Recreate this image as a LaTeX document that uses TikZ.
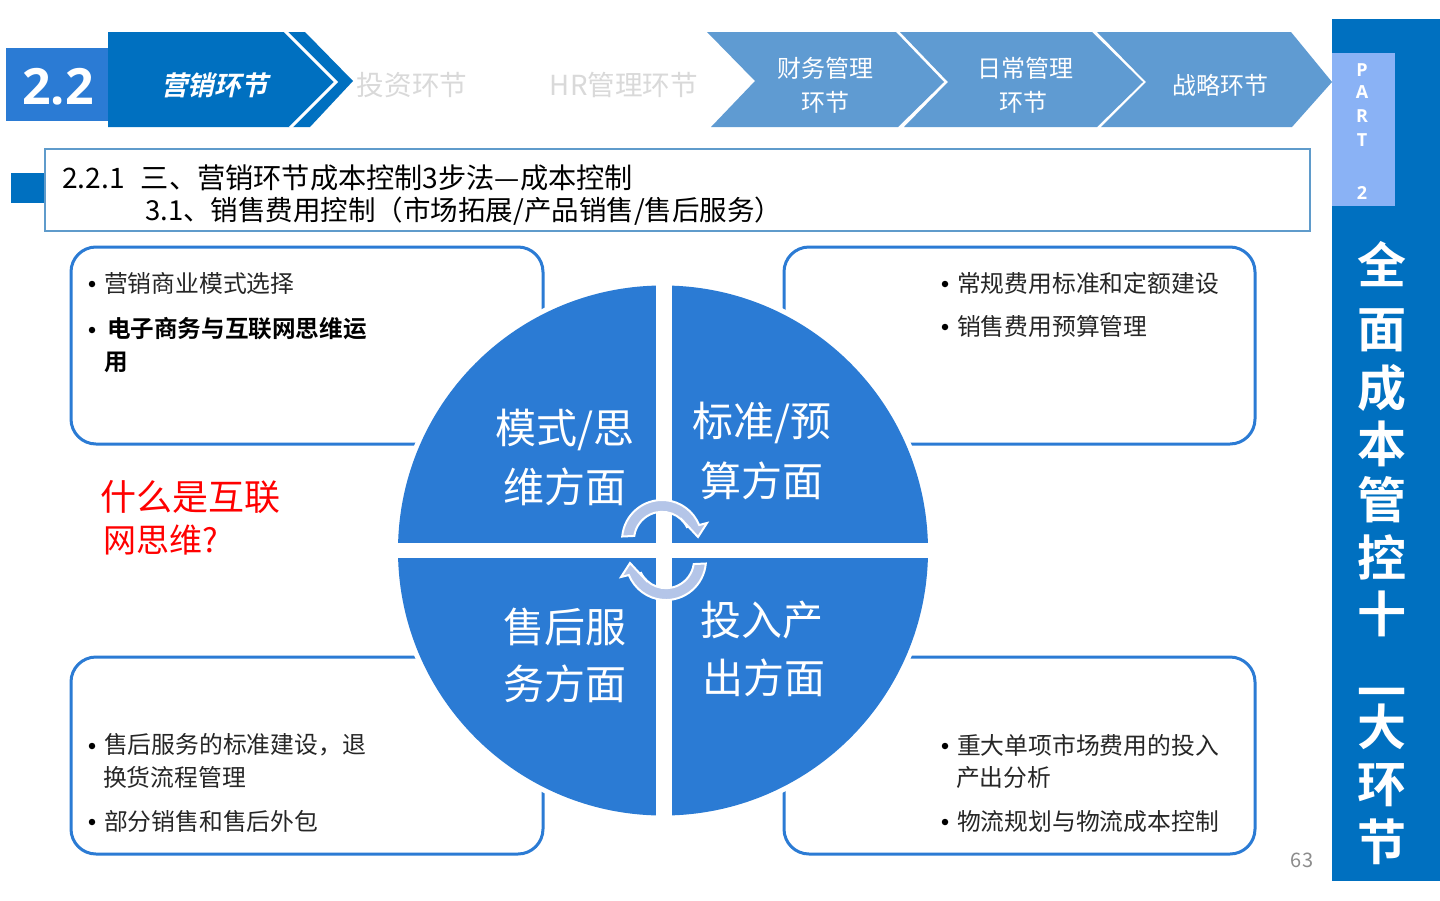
\documentclass[tikz,border=0pt]{standalone}
\usepackage{fontspec}
\setmainfont{Noto Sans CJK SC}
\newfontfamily\heavyf{Noto Sans CJK SC Bold}
\newfontfamily\slantf[FakeSlant=0.22]{Noto Sans CJK SC Bold}
\newfontfamily\latinb{Open Sans}[BoldFont={Open Sans Bold}]
\definecolor{mainblue}{HTML}{0070C0}
\definecolor{midblue}{HTML}{2B7BD4}
\definecolor{navblue}{HTML}{5F9BD2}
\definecolor{partblue}{HTML}{8AB2F5}
\definecolor{titleline}{HTML}{5F9BCB}
\definecolor{loopfill}{HTML}{B4C5E8}
\tikzset{
  txt/.style={inner sep=0pt,outer sep=0pt,font=\fontsize{23.8}{24}\selectfont,text=black!85},
  lefttxt/.style={txt,anchor=west},
  bulletdot/.style={circle,fill=black,inner sep=0pt,minimum size=6.5pt},
  roundbox/.style={draw=midblue,line width=3pt,rounded corners=25pt,fill=white},
  quadtxt/.style={inner sep=0pt,text=white,font=\fontsize{41}{41}\selectfont},
  navtxt/.style={inner sep=0pt,text=white,font=\fontsize{24}{24}\selectfont},
  greytxt/.style={inner sep=0pt,text=black!15,font=\fontsize{27.6}{28}\selectfont},
  sidetxt/.style={inner sep=0pt,text=white,font=\heavyf\fontsize{49}{49}\selectfont},
  parttxt/.style={inner sep=0pt,text=white,font=\latinb\bfseries\fontsize{18}{18}\selectfont},
  titletxt/.style={inner sep=0pt,anchor=west,text=black,font=\fontsize{28.2}{28}\selectfont},
  redtxt/.style={inner sep=0pt,anchor=west,text=red,font=\fontsize{36}{36}\selectfont},
  loopband/.style={draw=white,line width=2pt,fill=loopfill,line join=miter}
}
\begin{document}
\begin{tikzpicture}[x=1pt,y=-1pt]
\useasboundingbox (0,0) rectangle (1440,900);
\fill[white] (0,0) rectangle (1440,900);
% header
\fill[midblue] (6,48) rectangle (110,121);
\node[inner sep=0pt,text=white,font=\latinb\bfseries\fontsize{50}{50}\selectfont] (num) at (58,86.5) {2.2};
\fill[mainblue] (108,32) -- (305,32) -- (353,81) -- (310,127) -- (108,127) -- cycle;
\draw[white,line width=3pt] (285,31) -- (336,82) -- (290,128);
\node[inner sep=0pt,text=white,font=\slantf\fontsize{26.7}{27}\selectfont] (nav1) at (214.5,85) {营销环节};
\node[greytxt] (nav2) at (412,85) {投资环节};
\node[greytxt] (nav3) at (624,85) {HR管理环节};
\fill[navblue] (707,32) -- (896,32) -- (944,82) -- (898,127) -- (711,127) -- (755,81) -- cycle;
\fill[navblue] (900,32) -- (1092,32) -- (1143,82) -- (1097,127) -- (904,127) -- (948,82) -- cycle;
\fill[navblue] (1097,32) -- (1291,32) -- (1332,82) -- (1292,127) -- (1101,127) -- (1146,82) -- cycle;
\node[navtxt] (nav4a) at (825,68) {财务管理};
\node[navtxt] (nav4b) at (825,102) {环节};
\node[navtxt] (nav5a) at (1025,68) {日常管理};
\node[navtxt] (nav5b) at (1023,102) {环节};
\node[navtxt] (nav6) at (1220,85) {战略环节};
% side band
\fill[mainblue] (1332,19) rectangle (1440,881);
\fill[partblue] (1332,53) rectangle (1395,206);
\node[parttxt] (pp) at (1362,70) {P};
\node[parttxt] (pa) at (1362,92) {A};
\node[parttxt] (pr) at (1362,116) {R};
\node[parttxt] (pt) at (1362,140) {T};
\node[parttxt] (p2) at (1362,193) {2};
\node[sidetxt] (s1) at (1382,264) {全};
\node[sidetxt] (s2) at (1382,330) {面};
\node[sidetxt] (s3) at (1382,388) {成};
\node[sidetxt] (s4) at (1382,444) {本};
\node[sidetxt] (s5) at (1382,500) {管};
\node[sidetxt] (s6) at (1382,557) {控};
\node[sidetxt] (s7) at (1382,614) {十};
\node[sidetxt] (s8) at (1382,699) {一};
\node[sidetxt] (s9) at (1382,727) {大};
\node[sidetxt] (s10) at (1382,785) {环};
\node[sidetxt] (s11) at (1382,842) {节};
% title
\fill[mainblue] (11,173) rectangle (46,203);
\draw[titleline,line width=2pt,fill=white] (45,149) rectangle (1310,231);
\node[titletxt] (t1) at (62,178) {2.2.1\hspace{16pt}三、营销环节成本控制3步法—成本控制};
\node[titletxt,font=\fontsize{27.5}{28}\selectfont] (t2) at (145,211) {3.1、销售费用控制（市场拓展/产品销售/售后服务）};
% boxes
\draw[roundbox] (71,247) rectangle (543,444);
\draw[roundbox] (784,247) rectangle (1255,444);
\draw[roundbox] (71,657) rectangle (543,854);
\draw[roundbox] (784,657) rectangle (1255,854);
% disc
\fill[white] (663,550.5) circle[radius=270pt];
\begin{scope}
\clip (663,550.5) circle[radius=265pt];
\fill[midblue] (390,280) rectangle (656,543);
\fill[midblue] (672,280) rectangle (935,543);
\fill[midblue] (390,558) rectangle (656,820);
\fill[midblue] (672,558) rectangle (935,820);
\end{scope}
\node[quadtxt] (q1a) at (565,430) {模式/思};
\node[quadtxt] (q1b) at (565,487) {维方面};
\node[quadtxt] (q2a) at (762,423) {标准/预};
\node[quadtxt] (q2b) at (762,481) {算方面};
\node[quadtxt] (q3a) at (565,627) {售后服};
\node[quadtxt] (q3b) at (565,684) {务方面};
\node[quadtxt] (q4a) at (762,620) {投入产};
\node[quadtxt] (q4b) at (764,678) {出方面};
% loops
\draw[loopband] (622.2,536.5) arc[start angle=175,end angle=22,radius=40pt]
  -- (707,523) -- (698,537) -- (685,523) -- (687.4,528)
  arc[start angle=25,end angle=172,radius=28pt] -- cycle;
\begin{scope}[rotate around={180:(664,550)}]
\draw[loopband] (622.2,536.5) arc[start angle=175,end angle=22,radius=40pt]
  -- (707,523) -- (698,537) -- (685,523) -- (687.4,528)
  arc[start angle=25,end angle=172,radius=28pt] -- cycle;
\end{scope}
% red
\node[redtxt] (r1) at (100,497) {什么是互联};
\node[redtxt,font=\fontsize{33}{33}\selectfont] (r2) at (103,540) {网思维?};
% UL
\node[bulletdot] (b1) at (92,284) {};
\node[lefttxt] (a1) at (104,283) {营销商业模式选择};
\node[bulletdot] (b2) at (92,330) {};
\node[lefttxt,font=\heavyf\fontsize{23.6}{24}\selectfont,text=black] (a2) at (107,329) {电子商务与互联网思维运};
\node[lefttxt,font=\heavyf\fontsize{23.6}{24}\selectfont,text=black] (a3) at (104,362) {用};
% UR
\node[bulletdot] (b3) at (945,284) {};
\node[lefttxt] (c1) at (957,283) {常规费用标准和定额建设};
\node[bulletdot] (b4) at (945,327) {};
\node[lefttxt] (c2) at (957,326) {销售费用预算管理};
% LL
\node[bulletdot] (b5) at (92,746) {};
\node[lefttxt] (d1) at (104,745) {售后服务的标准建设，退};
\node[lefttxt] (d2) at (103,777) {换货流程管理};
\node[bulletdot] (b6) at (92,822) {};
\node[lefttxt] (d3) at (104,821) {部分销售和售后外包};
% LR
\node[bulletdot] (b7) at (945,746) {};
\node[lefttxt] (e1) at (957,745) {重大单项市场费用的投入};
\node[lefttxt] (e2) at (956,778) {产出分析};
\node[bulletdot] (b8) at (945,822) {};
\node[lefttxt] (e3) at (957,822) {物流规划与物流成本控制};
\node[inner sep=0pt,text=black!45,font=\fontsize{20}{20}\selectfont] (pg) at (1302,860) {63};
\end{tikzpicture}
\end{document}
